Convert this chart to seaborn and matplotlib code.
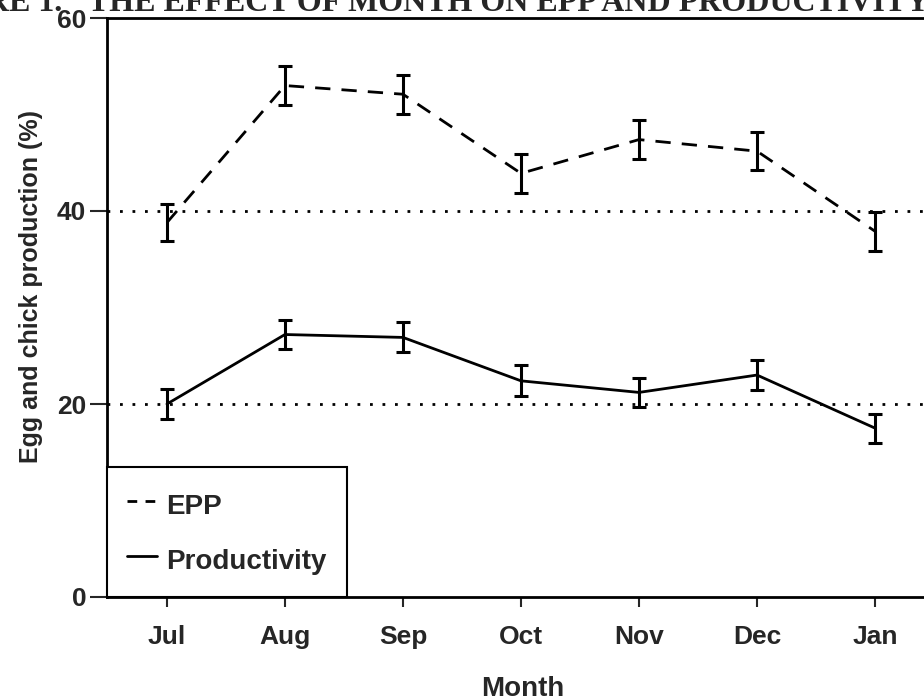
import pandas as pd
import matplotlib
matplotlib.use("Agg")
import matplotlib.pyplot as plt
import seaborn as sns

# values (means and error bar half-widths)
months = ["Jul", "Aug", "Sep", "Oct", "Nov", "Dec", "Jan"]
epp_mean = [38.8, 53.0, 52.1, 43.9, 47.4, 46.2, 37.9]
epp_err = [1.9, 2.0, 2.0, 2.0, 2.0, 2.0, 2.0]
prod_mean = [20.0, 27.2, 26.9, 22.4, 21.2, 23.0, 17.5]
prod_err = [1.55, 1.5, 1.55, 1.6, 1.5, 1.55, 1.5]
ref_lines = [40, 20]
y_ticks = [0, 20, 40, 60]

df = pd.DataFrame({
    "Month": months * 2,
    "value": epp_mean + prod_mean,
    "series": ["EPP"] * len(months) + ["Productivity"] * len(months),
})

sns.set_style("ticks")
plt.rcParams["font.family"] = ["Liberation Sans", "DejaVu Sans"]
plt.rcParams["font.weight"] = "bold"

fig = plt.figure(figsize=(9.24, 7), dpi=100)
ax = fig.add_axes([107 / 924, 1 - 597 / 700, 1 - 107 / 924, (597 - 18) / 700])

# dotted reference lines
for y in ref_lines:
    ax.axhline(y, color="black", linestyle=(0, (1, 3.5)), linewidth=2, zorder=1)

sns.lineplot(
    data=df, x="Month", y="value", style="series",
    dashes={"EPP": (5.5, 4), "Productivity": ""},
    color="black", linewidth=2, sort=False, ax=ax, zorder=3,
)

# error bars
x_pos = list(range(len(months)))
for means, errs in [(epp_mean, epp_err), (prod_mean, prod_err)]:
    ax.errorbar(x_pos, means, yerr=errs, fmt="none", ecolor="black",
                elinewidth=2.2, capsize=5, capthick=2.2, zorder=4)

ax.set_xlim(-0.508, 6.415)
ax.set_ylim(0, 60)
ax.set_yticks(y_ticks)
ax.set_xlabel("Month", fontsize=20, fontweight="bold")
ax.set_ylabel("Egg and chick production (%)", fontsize=18, fontweight="bold")
ax.xaxis.set_label_coords(0.509, -0.136)
ax.yaxis.set_label_coords(-0.078, 0.537)
ax.tick_params(axis="y", length=12, width=1.5, labelsize=19, pad=3, direction="out")
ax.tick_params(axis="x", length=7, width=1.5, labelsize=19, pad=13, direction="out")
for lab in ax.get_xticklabels() + ax.get_yticklabels():
    lab.set_fontweight("bold")

for side in ["left", "bottom", "top"]:
    ax.spines[side].set_linewidth(2)
    ax.spines[side].set_color("black")
ax.spines["right"].set_visible(False)

leg = ax.legend(loc="lower left", borderaxespad=0, fontsize=20, title=None,
                handlelength=1.08, handletextpad=0.32, labelspacing=0.77,
                handleheight=1.5, borderpad=0.73, fancybox=False, framealpha=1)
leg.get_frame().set_edgecolor("black")
leg.get_frame().set_linewidth(1.5)
leg.get_lines()[0].set_dashes((3.5, 3))
for t in leg.get_texts():
    t.set_fontweight("bold")

# partially cut-off heading of the scanned page
serif = ["Liberation Serif", "DejaVu Serif"]
fig.text(62 / 924, 1 - 11 / 700, "FIGURE 1.", family=serif, fontsize=23,
         fontweight="bold", ha="right", va="baseline")
fig.text(88 / 924, 1 - 11 / 700, "THE EFFECT OF MONTH ON EPP AND PRODUCTIVITY",
         family=serif, fontsize=23, fontweight="bold", ha="left", va="baseline")

fig.savefig("out.png", dpi=100)
plt.close(fig)
